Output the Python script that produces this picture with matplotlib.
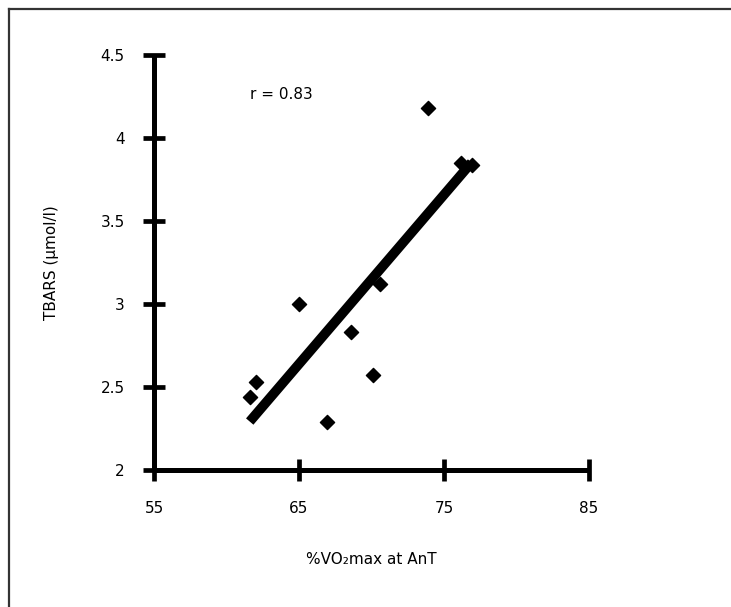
import matplotlib
matplotlib.use("Agg")
import matplotlib.pyplot as plt
import numpy as np

# %VO2max at AnT vs TBARS
vo2_pct = [73.9, 76.2, 76.9, 65.0, 70.6, 68.6, 70.1, 62.0, 61.6, 66.9]
tbars = [4.18, 3.85, 3.84, 3.00, 3.12, 2.83, 2.57, 2.53, 2.44, 2.29]

x_ticks = [55, 65, 75, 85]
y_ticks = [2, 2.5, 3, 3.5, 4, 4.5]
y_tick_labels = ["2", "2.5", "3", "3.5", "4", "4.5"]
r_text = "r = 0.83"

plt.rcParams["font.family"] = ["DejaVu Sans"]
FS = 11

fig = plt.figure(figsize=(7.31, 6.07), dpi=100)
# outer frame (only left and top edges show in the reference)
fig.add_artist(plt.Line2D([0.0125, 0.0125], [0, 0.985], color="#333333", linewidth=1.6))
fig.add_artist(plt.Line2D([0.0125, 1.0], [0.985, 0.985], color="#333333", linewidth=1.6))

ax = fig.add_axes([0.2107, 0.2257, 0.5951, 0.6837])
x = np.array(vo2_pct)
y = np.array(tbars)
ax.scatter(x, y, marker="D", s=52, color="black", zorder=3, clip_on=False)

slope, intercept = np.polyfit(x, y, 1)
xs = np.array([x.min(), x.max()])
ax.plot(xs, slope * xs + intercept, color="black", linewidth=7,
        solid_capstyle="butt", zorder=2)

ax.text(61.6, 4.26, r_text, fontsize=FS, va="center", ha="left")

ax.set_xlim(55, 85)
ax.set_ylim(2, 4.5)
ax.set_xticks(x_ticks)
ax.set_xticklabels([str(t) for t in x_ticks])
ax.set_yticks(y_ticks)
ax.set_yticklabels(y_tick_labels)

for side in ("top", "right"):
    ax.spines[side].set_visible(False)
for side in ("left", "bottom"):
    ax.spines[side].set_linewidth(3.6)
    ax.spines[side].set_capstyle("butt")

ax.tick_params(axis="both", direction="inout", length=16, width=3.4,
               labelsize=FS, color="black")
ax.tick_params(axis="x", pad=14)
ax.tick_params(axis="y", pad=13)

ax.set_xlabel("%VO\u2082max at AnT", fontsize=FS, labelpad=26)
ax.set_ylabel("TBARS (\u03bcmol/l)", fontsize=FS, labelpad=30)

fig.savefig("out.png", dpi=100)
